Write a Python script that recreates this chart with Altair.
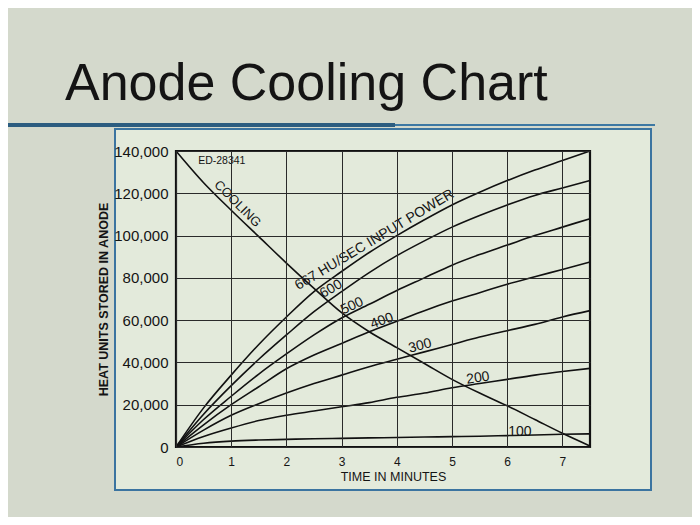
import altair as alt
import pandas as pd

# ---- data ----
time_min = [0, 0.5, 1, 1.5, 2, 2.5, 3, 3.5, 4, 4.5, 5, 5.5, 6, 6.5, 7, 7.5]
cooling = [140000, 125000, 112000, 99500, 87000, 75000, 63500, 54500, 47000, 39500, 32000, 25500, 19500, 13000, 6500, 500]
hu_667 = [0, 18500, 34000, 48500, 61500, 73500, 83000, 92000, 100000, 107500, 114500, 120500, 126000, 131000, 135500, 140000]
hu_600 = [0, 15500, 29000, 41500, 53000, 64000, 73500, 82500, 90500, 97500, 104000, 109500, 114500, 119000, 122500, 126000]
hu_500 = [0, 13000, 24000, 34500, 44000, 53000, 61000, 67500, 74000, 80000, 86000, 91000, 95500, 100000, 104000, 108000]
hu_400 = [0, 10500, 20000, 28500, 37000, 43500, 49000, 54500, 59500, 64500, 69000, 73000, 77000, 80500, 84000, 87500]
hu_300 = [0, 8000, 15000, 20500, 25500, 30000, 34000, 38000, 41500, 45000, 48500, 52000, 55000, 58000, 61500, 64500]
hu_200 = [0, 5000, 9000, 12500, 15000, 17000, 19000, 21000, 23500, 25500, 28000, 30000, 32000, 34000, 35700, 37200]
hu_100 = [0, 1800, 2800, 3300, 3600, 3900, 4100, 4300, 4500, 4700, 4900, 5100, 5400, 5700, 6000, 6200]
series_names = ["COOLING", "667", "600", "500", "400", "300", "200", "100"]
series_values = [cooling, hu_667, hu_600, hu_500, hu_400, hu_300, hu_200, hu_100]

x_grid = [0, 0.5, 1, 1.5, 2, 2.5, 3, 3.5, 4, 4.5, 5, 5.5, 6, 6.5, 7, 7.5]
y_grid = [0, 10000, 20000, 30000, 40000, 50000, 60000, 70000, 80000, 90000,
          100000, 110000, 120000, 130000, 140000]

# curve-following labels (anchored on the curve, sitting above it)
cool_label = ["COOLING"]
cool_label_t = [1.0]
cool_label_hu = [112000]
power_label = ["667 HU/SEC INPUT POWER"]
power_label_t = [2.3]
power_label_hu = [70500]

# number labels (centre positions)
num_label_text = ["600", "500", "400", "300", "200", "100"]
num_label_t = [2.81, 3.19, 3.73, 4.42, 5.47, 6.23]
num_label_hu = [74700, 66700, 59600, 47800, 32600, 7300]
num_label_angle = [330, 335, 340, 346, 352, 0]

drawing_no = ["ED-28341"]
drawing_no_t = [0.83]
drawing_no_hu = [135300]

# ---- tables ----
rows = []
for name, vals in zip(series_names, series_values):
    for t, v in zip(time_min, vals):
        rows.append({"t": t, "hu": v, "series": name})
df = pd.DataFrame(rows)

cool_df = pd.DataFrame({"text": cool_label, "t": cool_label_t, "hu": cool_label_hu})
power_df = pd.DataFrame({"text": power_label, "t": power_label_t, "hu": power_label_hu})
num_df = pd.DataFrame({"text": num_label_text, "t": num_label_t, "hu": num_label_hu,
                       "angle": num_label_angle})
dn_df = pd.DataFrame({"text": drawing_no, "t": drawing_no_t, "hu": drawing_no_hu})
one = pd.DataFrame({"k": [0]})

W, H = 414, 296
FONT = "Liberation Sans"
INK = "#141414"

xs = alt.Scale(domain=[0, 7.5], nice=False)
ys = alt.Scale(domain=[0, 140000], nice=False)

panel = alt.Chart(one).mark_rect(fill="#e3eadb", stroke="#3b74a0", strokeWidth=2).encode(
    x=alt.value(-61), x2=alt.value(475), y=alt.value(-22), y2=alt.value(339))

rule_thin = alt.Chart(one).mark_rule(color="#3d78a3", strokeWidth=2).encode(
    x=alt.value(-168), x2=alt.value(479), y=alt.value(-26))
rule_thick = alt.Chart(one).mark_rule(color="#2c5d80", strokeWidth=4).encode(
    x=alt.value(-168), x2=alt.value(219), y=alt.value(-26))

title = alt.Chart(one).mark_text(text="Anode Cooling Chart", align="left", baseline="alphabetic",
                                 fontSize=52, font=FONT, color=INK).encode(
    x=alt.value(-111), y=alt.value(-51))

lines = alt.Chart(df).mark_line(color="#111111", strokeWidth=1.6, interpolate="monotone").encode(
    x=alt.X("t:Q", scale=xs,
            axis=alt.Axis(values=x_grid, zindex=1,
                          labelExpr="datum.value % 1 == 0 ? format(datum.value, 'd') : ''",
                          title="TIME IN MINUTES", grid=True, ticks=False, domain=False,
                          labelFontSize=12, labelPadding=9, titleFontSize=12.5,
                          titlePadding=3, titleFontWeight="normal", titleX=217)),
    y=alt.Y("hu:Q", scale=ys,
            axis=alt.Axis(values=y_grid, zindex=1,
                          labelExpr="datum.value % 20000 == 0 ? format(datum.value, ',') : ''",
                          title="HEAT UNITS STORED IN ANODE", grid=True, ticks=False, domain=False,
                          labelFontSize=15, labelPadding=8, titleFontSize=12.5,
                          titlePadding=3, titleFontWeight="bold")),
    detail="series:N",
)

cool_text = alt.Chart(cool_df).mark_text(baseline="bottom", align="center", dy=-2, angle=45,
                                         fontSize=13, font=FONT, color=INK).encode(
    x=alt.X("t:Q", scale=xs), y=alt.Y("hu:Q", scale=ys), text="text:N")

power_text = alt.Chart(power_df).mark_text(baseline="bottom", align="left", dy=-6, angle=329,
                                           fontSize=14, font=FONT, color=INK).encode(
    x=alt.X("t:Q", scale=xs), y=alt.Y("hu:Q", scale=ys), text="text:N")

num_labels = alt.Chart(num_df).mark_text(align="center", baseline="middle", fontSize=14,
                                         font=FONT, color=INK).encode(
    x=alt.X("t:Q", scale=xs), y=alt.Y("hu:Q", scale=ys), text="text:N",
    angle=alt.Angle("angle:Q", scale=None))

dn_label = alt.Chart(dn_df).mark_text(align="center", baseline="middle", fontSize=10.5,
                                      font=FONT, color=INK).encode(
    x=alt.X("t:Q", scale=xs), y=alt.Y("hu:Q", scale=ys), text="text:N")

frame = alt.Chart(one).mark_rect(fill="white", fillOpacity=0, stroke="#111111", strokeWidth=2.2).encode(
    x=alt.value(0), x2=alt.value(W), y=alt.value(0), y2=alt.value(H))

chart = alt.layer(panel, rule_thin, rule_thick, title, lines, cool_text, power_text,
                  num_labels, dn_label, frame).properties(
    width=W, height=H,
    padding={"left": 168, "top": 143, "right": 102, "bottom": 70},
    autosize=alt.AutoSizeParams(type="none"),
    background="#d4d9cc",
).configure_view(stroke="transparent").configure_axis(
    gridColor="#2a2a2a", gridWidth=1, gridOpacity=1,
    labelFont=FONT, titleFont=FONT, labelColor=INK, titleColor=INK,
)

chart.save("out.html", embed_options={"renderer": "svg", "actions": False})
